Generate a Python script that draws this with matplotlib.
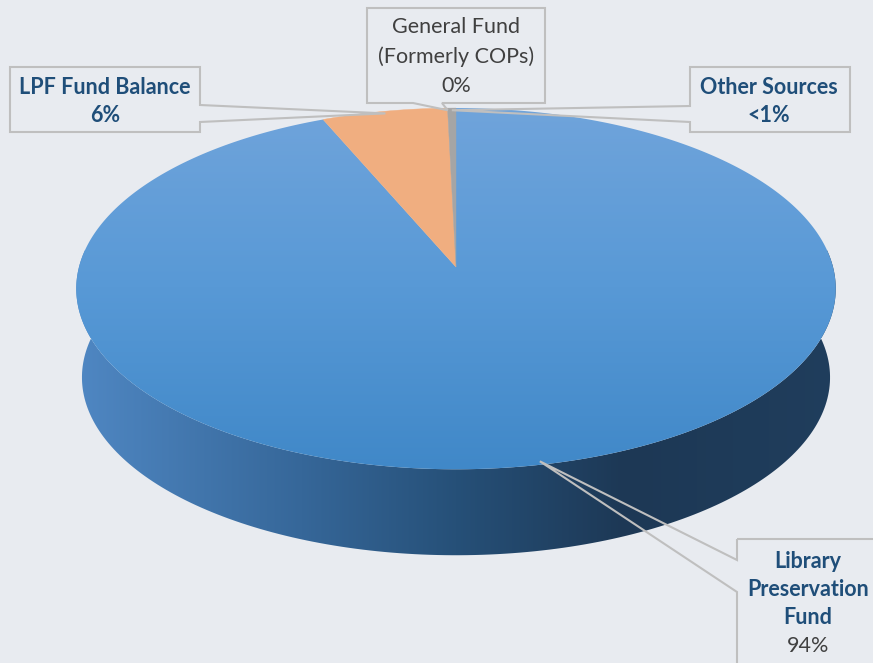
import numpy as np
import matplotlib
matplotlib.use("Agg")
import matplotlib.pyplot as plt
from matplotlib.patches import Polygon

# data
categories = ["Library Preservation Fund", "LPF Fund Balance",
              "General Fund (Formerly COPs)", "Other Sources"]
values = [93.6, 6.0, 0.0, 0.4]
pct_labels = ["94%", "6%", "0%", "<1%"]
colors = ["#5b9bd5", "#f0ae80", "#ffc000", "#a5a5a5"]

bg = "#e8ebf0"
lab_blue = "#1f4e79"
lab_gray = "#404040"
edge = "#bfbfbf"

# pie geometry (pixel space, simple perspective)
cx, cy = 456, 267
a, b, c = 377, 178, 0.12
depth = 89
shrink = 0.985


def proj(theta, r=1.0, bottom=False):
    u = r * np.sin(theta)
    v = -r * np.cos(theta)
    w = 1 - c * v
    if bottom:
        return cx + shrink * a * u / w, cy + depth + shrink * b * v / w
    return cx + a * u / w, cy + b * v / w


def blend(stops, n):
    xs = np.linspace(0, 1, n)
    pos = [s[0] for s in stops]
    out = np.zeros((n, 3))
    for k in range(3):
        out[:, k] = np.interp(xs, pos, [s[1][k] / 255 for s in stops])
    return out


fig = plt.figure(figsize=(8.73, 6.63), dpi=100, facecolor=bg)
ax = fig.add_axes([0, 0, 1, 1])
ax.set_xlim(0, 873)
ax.set_ylim(663, 0)
ax.axis("off")
ax.set_facecolor(bg)

# side wall (front half)
t = np.linspace(np.radians(78), np.radians(282), 200)
tx, ty = proj(t)
bx, by = proj(t[::-1], bottom=True)
wall = Polygon(np.column_stack([np.r_[tx, bx], np.r_[ty, by]]),
               closed=True, facecolor="none", edgecolor="none")
ax.add_patch(wall)
wall_grad = blend([(0.0, (80, 136, 196)), (0.3, (54, 103, 153)),
                   (0.5, (38, 80, 120)), (0.72, (29, 56, 85)),
                   (1.0, (32, 62, 93))], 400)
im = ax.imshow(wall_grad[np.newaxis, :, :], extent=(70, 842, 580, 250),
               origin="upper", aspect="auto", zorder=1)
im.set_clip_path(wall)

# top face slices, clockwise from 12 o'clock
fracs = np.array(values) / np.sum(values)
bounds = np.r_[0, np.cumsum(fracs)] * 2 * np.pi
mids = []
for i, col in enumerate(colors):
    mids.append((bounds[i] + bounds[i + 1]) / 2)
    if fracs[i] == 0:
        continue
    th = np.linspace(bounds[i], bounds[i + 1], max(3, int(400 * fracs[i])))
    px, py = proj(th)
    pts = np.column_stack([np.r_[cx, px], np.r_[cy, py]])
    if i == 0:
        poly = Polygon(pts, closed=True, facecolor="none", edgecolor="none", zorder=2)
        ax.add_patch(poly)
        top_grad = blend([(0.0, (112, 164, 219)), (0.5, (88, 153, 214)),
                          (1.0, (64, 136, 200))], 300)
        im2 = ax.imshow(top_grad[:, np.newaxis, :], extent=(70, 842, 470, 105),
                        origin="upper", aspect="auto", zorder=2)
        im2.set_clip_path(poly)
    else:
        ax.add_patch(Polygon(pts, closed=True, facecolor=col,
                             edgecolor=col, linewidth=0.3, zorder=3))


def callout(box, side, base, tip):
    x0, y0, x1, y1 = box
    if side == "right":
        pts = [(x0, y0), (x1, y0), (x1, base[0]), tip, (x1, base[1]), (x1, y1), (x0, y1)]
    elif side == "left":
        pts = [(x0, y0), (x1, y0), (x1, y1), (x0, y1), (x0, base[1]), tip, (x0, base[0])]
    else:  # bottom
        pts = [(x0, y0), (x1, y0), (x1, y1), (base[1], y1), tip, (base[0], y1), (x0, y1)]
    ax.add_patch(Polygon(pts, closed=True, facecolor="none", edgecolor=edge,
                         linewidth=1.5, zorder=5))


tips = [proj(m, 0.985) for m in mids]

callout((737, 539, 885, 675), "left", (560, 592), tips[0])
callout((10, 67, 200, 132), "right", (105, 122), tips[1])
callout((367, 8, 545, 103), "bottom", (413, 442), tips[2])
callout((690, 67, 850, 132), "left", (106, 122), tips[3])

fs = 15.5
font = "Lato"
txt = dict(ha="center", va="center", fontsize=fs, family=font, zorder=6)

for i, s in enumerate(["Library", "Preservation", "Fund"]):
    ax.text(808, 561 + 28 * i, s, color=lab_blue, weight="bold", **txt)
ax.text(808, 646, pct_labels[0], color=lab_gray, **txt)

ax.text(105, 87, "LPF Fund Balance", color=lab_blue, weight="bold", **txt)
ax.text(105, 116, pct_labels[1], color=lab_blue, weight="bold", **txt)

ax.text(456, 27, "General Fund", color=lab_gray, **txt)
ax.text(456, 57, "(Formerly COPs)", color=lab_gray, **txt)
ax.text(456, 86, pct_labels[2], color=lab_gray, **txt)

ax.text(769, 87, "Other Sources", color=lab_blue, weight="bold", **txt)
ax.text(769, 116, pct_labels[3], color=lab_blue, weight="bold", **txt)

fig.savefig("out.png", dpi=100, facecolor=bg)
